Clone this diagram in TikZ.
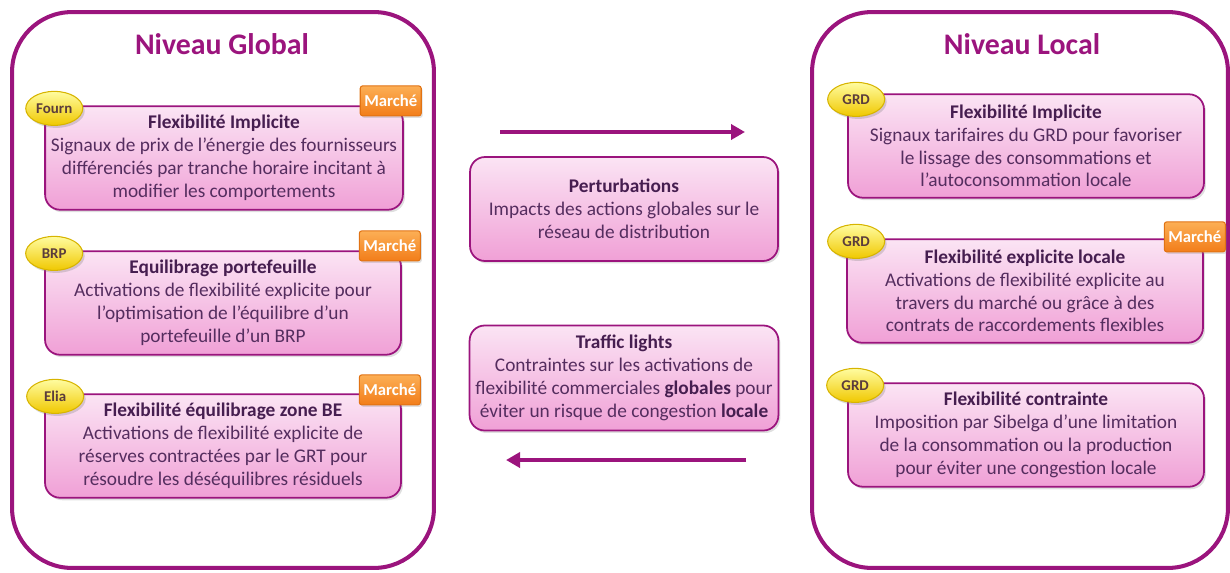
\documentclass[tikz,border=0pt]{standalone}
\usepackage{fontspec}
\setmainfont{Carlito}
\usepackage{tikz}
\usetikzlibrary{arrows.meta, positioning, shapes.geometric, shadows}

\definecolor{violet}{RGB}{155,20,125}
\definecolor{texte}{RGB}{85,45,95}
\definecolor{titre}{RGB}{70,30,80}
\definecolor{rosehaut}{RGB}{251,228,244}
\definecolor{rosebas}{RGB}{240,160,214}

\begin{document}
\begin{tikzpicture}[
                x=0.02cm, y=-0.02cm,
                niveau/.style={draw=violet, line width=2.3pt, rectangle, rounded corners=1.2cm, minimum width=8.44cm, minimum height=11.12cm},
                niveautitre/.style={text=violet, font=\fontsize{17}{20}\selectfont\bfseries},
                flexbox/.style={draw=violet, line width=1pt, rectangle, rounded corners=0.3cm, top color=rosehaut, bottom color=rosebas, minimum width=7.12cm, minimum height=2.07cm, align=center, text=texte, font=\fontsize{11}{13}\selectfont, drop shadow={opacity=0.25, shadow xshift=0.04cm, shadow yshift=-0.05cm}},
                badge/.style={draw={rgb,255:red,215;green,180;blue,0}, line width=0.6pt, ellipse, top color={rgb,255:red,255;green,252;blue,160}, bottom color={rgb,255:red,240;green,200;blue,0}, minimum width=1.14cm, minimum height=0.68cm, inner sep=0pt, text={rgb,255:red,90;green,60;blue,60}, font=\fontsize{8.5}{9}\selectfont\bfseries, drop shadow={opacity=0.3, shadow xshift=0.04cm, shadow yshift=-0.05cm}},
                marche/.style={draw={rgb,255:red,225;green,115;blue,20}, line width=0.6pt, rectangle, rounded corners=0.05cm, top color={rgb,255:red,252;green,175;blue,85}, bottom color={rgb,255:red,242;green,125;blue,25}, minimum width=1.22cm, minimum height=0.6cm, inner sep=0pt, text=white, font=\fontsize{9.5}{11}\selectfont\bfseries, drop shadow={opacity=0.25, shadow xshift=0.03cm, shadow yshift=-0.04cm}},
                fleche/.style={draw=violet, line width=2.3pt, -{Triangle[length=0.28cm, width=0.3cm]}}
            ]
            \useasboundingbox (0,0) rectangle (1230,572);

            % Niveau global
            \node[niveau] (global) at (223,290) {};
            \node[niveautitre] (globaltitre) at (222,44) {Niveau Global};

            \node[flexbox] (g1) at (224,158) {\textbf{\color{titre}Flexibilité Implicite}\\Signaux de prix de l’énergie des fournisseurs\\différenciés par tranche horaire incitant à\\modifier les comportements};
            \node[flexbox] (g2) at (223,303) {\textbf{\color{titre}Equilibrage portefeuille}\\Activations de flexibilité explicite pour\\l’optimisation de l’équilibre d’un\\portefeuille d’un BRP};
            \node[flexbox] (g3) at (223,446) {\textbf{\color{titre}Flexibilité équilibrage zone BE}\\Activations de flexibilité explicite de\\réserves contractées par le GRT pour\\résoudre les déséquilibres résiduels};

            \node[badge] (fourn) at ([xshift=0.2cm, yshift=-0.06cm]g1.north west) {Fourn};
            \node[badge] (brp) at ([xshift=0.2cm, yshift=-0.06cm]g2.north west) {BRP};
            \node[badge] (elia) at ([xshift=0.22cm, yshift=-0.06cm]g3.north west) {Elia};
            \node[marche, anchor=south east] (m-g1) at ([xshift=0.36cm, yshift=-0.22cm]g1.north east) {Marché};
            \node[marche, anchor=south east] (m-g2) at ([xshift=0.38cm, yshift=-0.22cm]g2.north east) {Marché};
            \node[marche, anchor=south east] (m-g3) at ([xshift=0.38cm, yshift=-0.24cm]g3.north east) {Marché};

            % Interactions
            \node[flexbox, minimum width=6.16cm, minimum height=2.08cm] (perturb) at (624,209) {\textbf{\color{titre}Perturbations}\\Impacts des actions globales sur le\\réseau de distribution};
            \node[flexbox, minimum width=6.16cm, minimum height=2.1cm] (traffic) at (624,378) {\textbf{\color{titre}Traffic lights}\\Contraintes sur les activations de\\flexibilité commerciales \textbf{\color{titre}globales} pour\\éviter un risque de congestion \textbf{\color{titre}locale}};
            \coordinate (haut-a) at (500,132);
            \coordinate (haut-b) at (745,132);
            \coordinate (bas-a) at (746,460);
            \coordinate (bas-b) at (506,460);
            \draw[fleche] (haut-a) -- (haut-b);
            \draw[fleche] (bas-a) -- (bas-b);

            % Niveau local
            \node[niveau, minimum width=8.32cm] (local) at (1020,290) {};
            \node[niveautitre] (localtitre) at (1022,44) {Niveau Local};

            \node[flexbox] (l1) at (1026,146) {\textbf{\color{titre}Flexibilité Implicite}\\Signaux tarifaires du GRD pour favoriser\\le lissage des consommations et\\l’autoconsommation locale};
            \node[flexbox] (l2) at (1025,291) {\textbf{\color{titre}Flexibilité explicite locale}\\Activations de flexibilité explicite au\\travers du marché ou grâce à des\\contrats de raccordements flexibles};
            \node[flexbox] (l3) at (1026,435) {\textbf{\color{titre}Flexibilité contrainte}\\Imposition par Sibelga d’une limitation\\de la consommation ou la production\\pour éviter une congestion locale};

            \node[badge] (grd1) at ([xshift=0.18cm, yshift=-0.12cm]l1.north west) {GRD};
            \node[badge] (grd2) at ([xshift=0.2cm, yshift=-0.06cm]l2.north west) {GRD};
            \node[badge] (grd3) at ([xshift=0.16cm, yshift=-0.06cm]l3.north west) {GRD};
            \node[marche, anchor=south east] (m-l2) at ([xshift=0.44cm, yshift=-0.28cm]l2.north east) {Marché};
\end{tikzpicture}
\end{document}
